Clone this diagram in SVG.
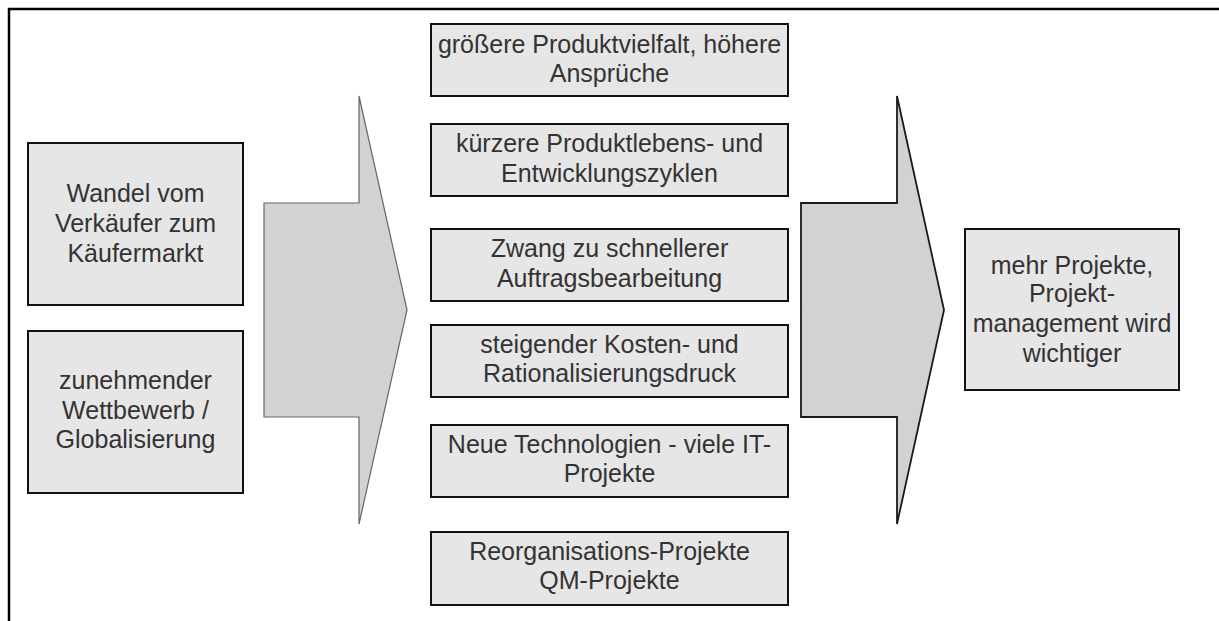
<svg xmlns="http://www.w3.org/2000/svg" width="1219" height="621" viewBox="0 0 1219 621">
  <style>
    .frame { fill: none; stroke: #000; stroke-width: 2.5; }
    .box { fill: #e6e6e6; stroke: #111; stroke-width: 2; }
    .label { font-family: "Liberation Sans", Arial, sans-serif; font-size: 25px; fill: #333; text-anchor: middle; }
    .arrow-in { fill: #d2d2d2; stroke: #666; stroke-width: 1.2; stroke-linejoin: miter; }
    .arrow-out { fill: #d2d2d2; stroke: #1a1a1a; stroke-width: 1.8; stroke-linejoin: miter; }
  </style>
  <rect width="1219" height="621" fill="#fff"/>

  <!-- outer frame: top and left edges -->
  <polyline class="frame" points="9,621 9,9 1219,9"/>

  <!-- causes -->
  <g id="cause-market">
    <rect class="box" x="28" y="143" width="215" height="162"/>
    <text class="label" x="135.5" y="201.5">Wandel vom</text>
    <text class="label" x="135.5" y="231.5">Verkäufer zum</text>
    <text class="label" x="135.5" y="261.5">Käufermarkt</text>
  </g>
  <g id="cause-competition">
    <rect class="box" x="28" y="331" width="215" height="162"/>
    <text class="label" x="135.5" y="389">zunehmender</text>
    <text class="label" x="135.5" y="419">Wettbewerb /</text>
    <text class="label" x="135.5" y="448">Globalisierung</text>
  </g>

  <!-- effects -->
  <g id="effect-variety">
    <rect class="box" x="431" y="24" width="357" height="72"/>
    <text class="label" x="609.5" y="53">größere Produktvielfalt, höhere</text>
    <text class="label" x="609.5" y="82">Ansprüche</text>
  </g>
  <g id="effect-cycles">
    <rect class="box" x="431" y="124" width="357" height="72"/>
    <text class="label" x="609.5" y="152">kürzere Produktlebens- und</text>
    <text class="label" x="609.5" y="181.5">Entwicklungszyklen</text>
  </g>
  <g id="effect-speed">
    <rect class="box" x="431" y="229" width="357" height="72"/>
    <text class="label" x="609.5" y="257">Zwang zu schnellerer</text>
    <text class="label" x="609.5" y="286.5">Auftragsbearbeitung</text>
  </g>
  <g id="effect-cost">
    <rect class="box" x="431" y="325" width="357" height="72"/>
    <text class="label" x="609.5" y="353">steigender Kosten- und</text>
    <text class="label" x="609.5" y="382">Rationalisierungsdruck</text>
  </g>
  <g id="effect-technology">
    <rect class="box" x="431" y="425" width="357" height="72"/>
    <text class="label" x="609.5" y="453">Neue Technologien - viele IT-</text>
    <text class="label" x="609.5" y="482">Projekte</text>
  </g>
  <g id="effect-reorganisation">
    <rect class="box" x="431" y="532" width="357" height="73"/>
    <text class="label" x="609.5" y="559.5">Reorganisations-Projekte</text>
    <text class="label" x="609.5" y="588.5">QM-Projekte</text>
  </g>

  <!-- result -->
  <g id="result">
    <rect class="box" x="965" y="229" width="214" height="161"/>
    <text class="label" x="1072" y="273.5">mehr Projekte,</text>
    <text class="label" x="1072" y="302">Projekt-</text>
    <text class="label" x="1072" y="331.5">management wird</text>
    <text class="label" x="1072" y="361.5">wichtiger</text>
  </g>

  <!-- block arrows -->
  <g id="connectors">
    <polygon class="arrow-in" points="264,203 359,203 359,96 407,310 359,524 359,417 264,417"/>
    <polygon class="arrow-out" points="801,203 897,203 897,96 944,310 897,524 897,417 801,417"/>
  </g>
</svg>
